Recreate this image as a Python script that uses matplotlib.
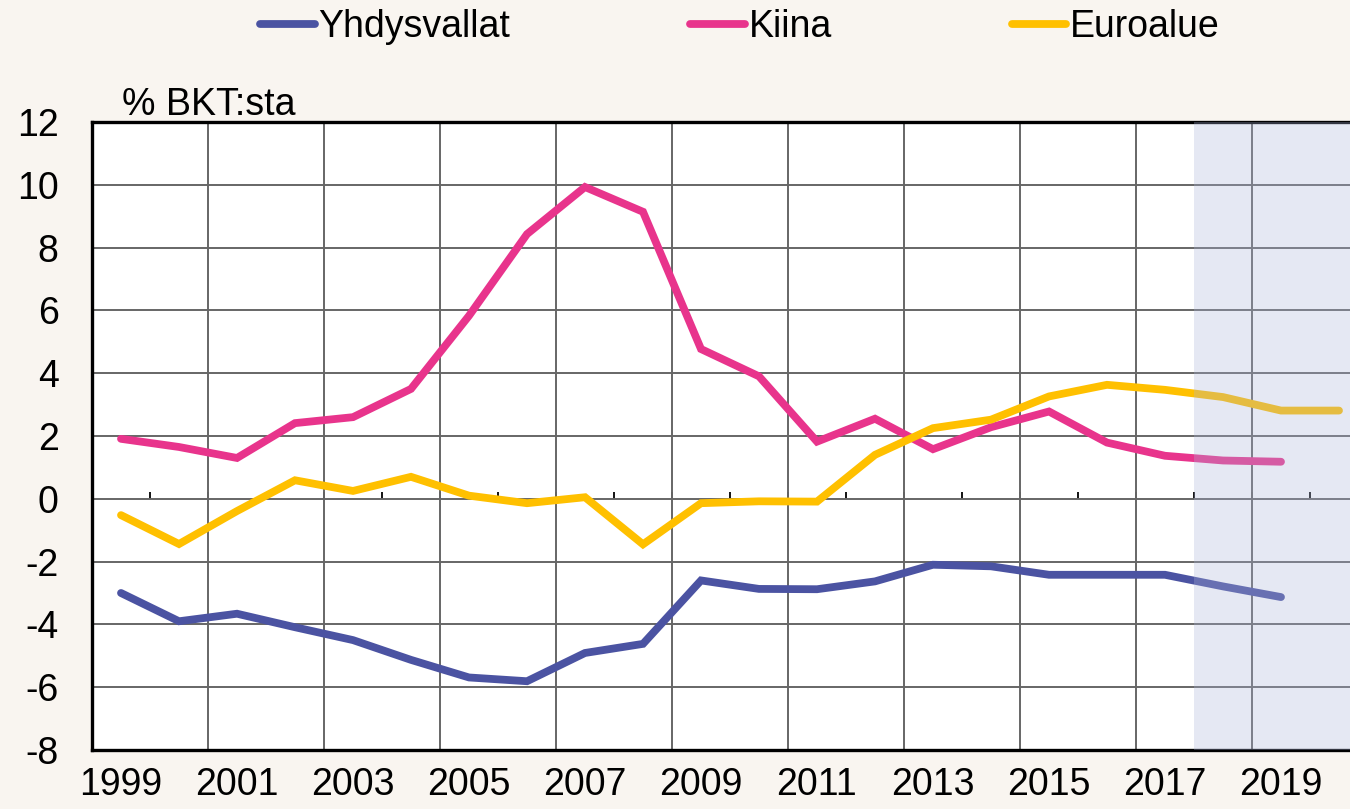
import numpy as np
import matplotlib
matplotlib.use("Agg")
import matplotlib.pyplot as plt

years = list(range(1999, 2021))
usa = [-3.0, -3.9, -3.66, -4.09, -4.5, -5.13, -5.69, -5.81, -4.91, -4.62, -2.6,
       -2.87, -2.88, -2.63, -2.1, -2.15, -2.42, -2.42, -2.42, -2.79, -3.13]
china = [1.91, 1.65, 1.3, 2.41, 2.6, 3.5, 5.83, 8.43, 9.93, 9.14, 4.77,
         3.9, 1.82, 2.55, 1.58, 2.28, 2.78, 1.79, 1.37, 1.22, 1.18]
euro = [-0.52, -1.44, -0.39, 0.59, 0.25, 0.7, 0.1, -0.14, 0.05, -1.45, -0.14,
        -0.08, -0.09, 1.4, 2.25, 2.52, 3.26, 3.63, 3.47, 3.24, 2.81, 2.81]
names = ["Yhdysvallat", "Kiina", "Euroalue"]
colors = ["#4B53A2", "#E8348C", "#FFC000"]
forecast_start = 2017.5

plt.rcParams['font.family'] = ['Liberation Sans', 'DejaVu Sans']
plt.rcParams['axes.unicode_minus'] = False
bg = "#F9F5F0"

fig = plt.figure(figsize=(13.5, 8.09), dpi=100, facecolor=bg)
ax = fig.add_axes([92 / 1350, 59 / 809, 1 - 92 / 1350, (750 - 122) / 809])
ax.set_facecolor("white")

for vals, name, c in zip([usa, china, euro], names, colors):
    ax.plot(years[:len(vals)], vals, color=c, lw=5.6, label=name,
            solid_capstyle="round", solid_joinstyle="miter", zorder=3)

# forecast shading drawn over the lines
ax.axvspan(forecast_start, 2022, color=(172 / 255, 182 / 255, 218 / 255),
           alpha=0.3, lw=0, zorder=5)

ax.set_xlim(1998.5, 1998.5 + (1350 - 92) / 58)
ax.set_ylim(-8, 12)

ax.set_yticks(np.arange(-8, 13, 2))
ax.set_xticks(years[::2])
ax.set_xticks(np.arange(2000.5, 2020, 2), minor=True)
ax.tick_params(axis="both", which="both", length=0, labelsize=27)
ax.tick_params(axis="y", pad=24)
ax.tick_params(axis="x", pad=12)
ax.grid(True, axis="y", which="major", color="#666666", lw=1.4, zorder=1)
ax.grid(True, axis="x", which="minor", color="#666666", lw=1.4, zorder=1)

for s in ["left", "top", "bottom"]:
    ax.spines[s].set_linewidth(2.4)
    ax.spines[s].set_color("black")
ax.spines["right"].set_visible(False)

# small ticks on the zero line
sec = ax.secondary_xaxis(0.4)
sec.set_xticks(np.arange(1999.5, 2020.6, 1))
sec.tick_params(direction="in", length=5, width=1.3, color="black", labelbottom=False)
sec.spines["bottom"].set_visible(False)

fig.text(122 / 1350, 1 - 115 / 809, "% BKT:sta", fontsize=27, va="baseline", ha="left")

fig.legend(loc="center", bbox_to_anchor=(740 / 1350, 1 - 27 / 809), ncol=3,
           frameon=False, fontsize=27, handlelength=1.45, handletextpad=0.1,
           columnspacing=4.8)

fig.savefig("out.png", dpi=100, facecolor=bg)
